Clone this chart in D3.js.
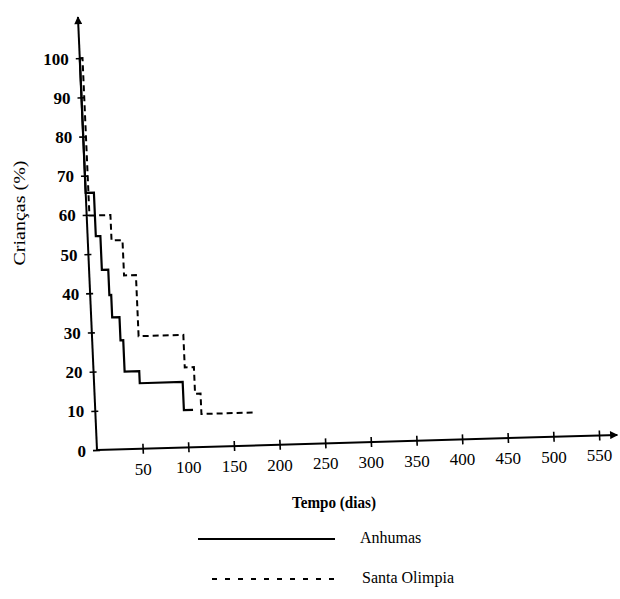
<!DOCTYPE html>
<html>
<head>
    <meta charset="utf-8">
    <title>Crianças (%) x Tempo (dias)</title>
    <script src="https://d3js.org/d3.v7.min.js"></script>
    <style>
        body { margin: 0; background: #fff; }
        svg { display: block; }
        .serif { font-family: "Liberation Serif", "DejaVu Serif", serif; fill: #000; }
    </style>
</head>
<body>
<script>
    // dados
    var xTicks = [50, 100, 150, 200, 250, 300, 350, 400, 450, 500, 550];
    var yTicks = [0, 10, 20, 30, 40, 50, 60, 70, 80, 90, 100];

    // Anhumas (linha cheia) - tempo do evento e % restante depois dele
    var anhumasDias = [0, 0, 9, 14, 21, 23, 31, 34, 50, 97, 107];
    var anhumasPct  = [100, 65.6, 54.5, 45.9, 39.4, 33.7, 27.8, 19.8, 16.7, 9.5, 9.5];

    // Santa Olimpia (tracejada)
    var santaDias = [0, 3, 26, 38, 51, 100, 110, 116, 173];
    var santaPct  = [100, 59.8, 53.3, 44.3, 28.7, 20.4, 13.6, 8.4, 8.4];

    var W = 620, H = 599;

    // a figura original e um scan levemente torto: eixo x sobe para a direita,
    // eixo y inclina para a esquerda. uso uma matriz afim no grupo do grafico
    var skewB = -0.029, skewC = 0.044;
    var origin = {x: 97, y: 450};
    var D = 1 - skewB * skewC;
    var inv = "matrix(" + [1 / D, -skewB / D, -skewC / D, 1 / D, 0, 0].join(",") + ")";

    var svg = d3.select("body").append("svg")
        .attr("width", W)
        .attr("height", H)
        .style("background", "#fff");

    // marcador de seta
    svg.append("defs").append("marker")
        .attr("id", "seta")
        .attr("viewBox", "0 0 10 10")
        .attr("refX", 9).attr("refY", 5)
        .attr("markerWidth", 5).attr("markerHeight", 4)
        .attr("markerUnits", "strokeWidth")
        .attr("orient", "auto")
        .append("path")
        .attr("d", "M0,0L10,5L0,10Z")
        .attr("fill", "#000");

    var g = svg.append("g")
        .attr("transform", "matrix(1," + skewB + "," + skewC + ",1," + origin.x + "," + origin.y + ")");

    var x = d3.scaleLinear().domain([0, 570]).range([0, 520.3]);
    var y = d3.scaleLinear().domain([0, 110.5]).range([0, -433]);

    // eixo x
    var gx = g.append("g")
        .call(d3.axisBottom(x).tickValues(xTicks).tickSizeOuter(0))
        .attr("font-size", 17)
        .attr("font-family", "'Liberation Serif', serif");
    gx.select(".domain")
        .attr("d", "M" + x.range()[0] + ",0H" + x.range()[1])
        .attr("stroke-width", 2)
        .attr("marker-end", "url(#seta)");
    gx.selectAll(".tick line").attr("y1", -5).attr("y2", 5).attr("stroke-width", 1.6);
    gx.selectAll(".tick text")
        .attr("y", 26).attr("dy", 0)
        .attr("transform", inv)
        .attr("fill", "#000");

    // eixo y
    var gy = g.append("g")
        .call(d3.axisLeft(y).tickValues(yTicks).tickSizeOuter(0))
        .attr("font-size", 17)
        .attr("font-family", "'Liberation Serif', serif")
        .attr("font-weight", "bold");
    gy.select(".domain")
        .attr("d", "M0," + y.range()[0] + "V" + y.range()[1])
        .attr("stroke-width", 2)
        .attr("marker-end", "url(#seta)");
    gy.selectAll(".tick line").attr("x1", -4).attr("x2", 3).attr("stroke-width", 1.6);
    gy.selectAll(".tick text")
        .attr("x", -11).attr("dy", 0).attr("y", 6)
        .attr("transform", inv)
        .attr("fill", "#000");

    // curvas em degrau
    var linha = d3.line()
        .x(function(d) { return x(d[0]); })
        .y(function(d) { return y(d[1]); })
        .curve(d3.curveStepAfter);

    g.append("path")
        .datum(d3.zip(santaDias, santaPct))
        .attr("d", linha)
        .attr("fill", "none")
        .attr("stroke", "#000")
        .attr("stroke-width", 2)
        .attr("stroke-dasharray", "6,4");

    g.append("path")
        .datum(d3.zip(anhumasDias, anhumasPct))
        .attr("d", linha)
        .attr("fill", "none")
        .attr("stroke", "#000")
        .attr("stroke-width", 2.2);

    // titulos dos eixos
    svg.append("text")
        .attr("class", "serif")
        .attr("transform", "translate(25,213) rotate(-90)")
        .attr("text-anchor", "middle")
        .attr("font-size", 17)
        .attr("textLength", 105)
        .attr("lengthAdjust", "spacingAndGlyphs")
        .text("Crianças (%)");

    svg.append("text")
        .attr("class", "serif")
        .attr("x", 334).attr("y", 508)
        .attr("text-anchor", "middle")
        .attr("font-size", 17)
        .attr("font-weight", "bold")
        .attr("textLength", 84)
        .attr("lengthAdjust", "spacingAndGlyphs")
        .text("Tempo (dias)");

    // legenda
    var legenda = svg.append("g");
    legenda.append("line")
        .attr("x1", 198).attr("x2", 335).attr("y1", 539).attr("y2", 539)
        .attr("stroke", "#000").attr("stroke-width", 2);
    legenda.append("text")
        .attr("class", "serif")
        .attr("x", 360).attr("y", 543)
        .attr("font-size", 16)
        .text("Anhumas");
    legenda.append("line")
        .attr("x1", 212).attr("x2", 337).attr("y1", 579).attr("y2", 579)
        .attr("stroke", "#000").attr("stroke-width", 2)
        .attr("stroke-dasharray", "5,8");
    legenda.append("text")
        .attr("class", "serif")
        .attr("x", 362).attr("y", 583)
        .attr("font-size", 16)
        .text("Santa Olimpia");
</script>
</body>
</html>
